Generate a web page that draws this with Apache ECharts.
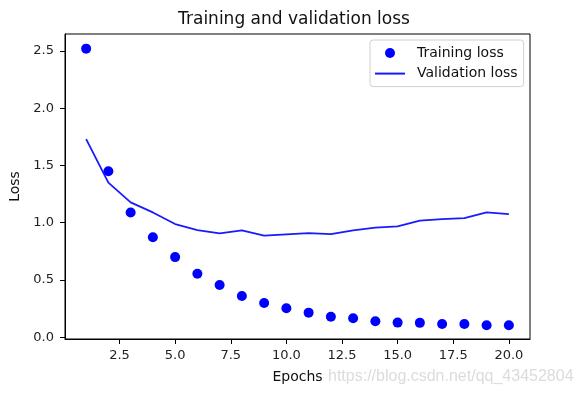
<!DOCTYPE html>
<html><head><meta charset="utf-8">
<script src="https://cdn.jsdelivr.net/npm/echarts@6/dist/echarts.min.js"></script>
<style>html,body{margin:0;padding:0;background:#fff}#c{width:579px;height:394px}</style>
</head><body><div id="c"></div>
<script>
const epochs = [1,2,3,4,5,6,7,8,9,10,11,12,13,14,15,16,17,18,19,20];
const trainingLoss = [2.52,1.45,1.09,0.873,0.70,0.555,0.456,0.36,0.30,0.253,0.215,0.18,0.166,0.14,0.128,0.126,0.116,0.116,0.105,0.105];
const validationLoss = [1.73,1.35,1.178,1.09,0.989,0.936,0.907,0.934,0.887,0.899,0.91,0.901,0.934,0.957,0.968,1.018,1.032,1.041,1.09,1.076];
const xTicks = [2.5,5,7.5,10,12.5,15,17.5,20];
const yTicks = [0,0.5,1,1.5,2,2.5];

const font = 'DejaVu Sans';
const chart = echarts.init(document.getElementById('c'), null, {renderer:'canvas'});
chart.setOption({
  animation:false,
  backgroundColor:'#fff',
  grid:{left:60,right:49,top:34,bottom:55,show:true,borderColor:'#000',borderWidth:1,backgroundColor:'#fff'},
  xAxis:{type:'value',min:0.05,max:20.95,
    name:'Epochs',nameLocation:'middle',nameGap:31,
    nameTextStyle:{fontFamily:font,fontSize:14,color:'#111'},
    axisLine:{show:true,onZero:false,lineStyle:{color:'#000'}},
    axisTick:{show:true,length:5,lineStyle:{color:'#000'},customValues:xTicks},
    axisLabel:{fontFamily:font,fontSize:13,color:'#222',margin:10,customValues:xTicks,formatter:v=>v.toFixed(1)},
    splitLine:{show:false}},
  yAxis:{type:'value',min:-0.015,max:2.648,
    name:'Loss',nameLocation:'middle',nameGap:43,
    nameTextStyle:{fontFamily:font,fontSize:14,color:'#111'},
    axisLine:{show:true,onZero:false,lineStyle:{color:'#000'}},
    axisTick:{show:true,length:5,lineStyle:{color:'#000'},customValues:yTicks},
    axisLabel:{fontFamily:font,fontSize:13,color:'#222',margin:11,customValues:yTicks,formatter:v=>v.toFixed(1)},
    splitLine:{show:false}},
  legend:{orient:'vertical',left:370,top:40,padding:[6,6,6,4],itemGap:6.6,itemWidth:30,itemHeight:10,
    backgroundColor:'#fff',borderColor:'#d0d0d0',borderWidth:1,borderRadius:3,
    textStyle:{fontFamily:font,fontSize:14,lineHeight:14,color:'#111',padding:[0,0,0,7]},
    data:[{name:'Training loss',icon:'circle'},{name:'Validation loss',itemStyle:{opacity:0,borderWidth:0}}]},
  graphic:[
    {type:'text',x:294,y:20,style:{text:'Training and validation loss',font:'17px "DejaVu Sans"',fill:'#111',textAlign:'center',textVerticalAlign:'middle',verticalAlign:'middle'}},
    {type:'text',x:328,y:369,style:{text:'https://blog.csdn.net/qq_43452804',font:'16px "Liberation Sans"',fill:'#dcdcdc'},z:100}
  ],
  series:[
    {name:'Training loss',type:'scatter',symbol:'circle',symbolSize:10,itemStyle:{color:'#0000ff',opacity:1},
      data:epochs.map((e,i)=>[e,trainingLoss[i]])},
    {name:'Validation loss',type:'line',symbol:'none',lineStyle:{color:'#1a1aff',width:1.8},itemStyle:{color:'#1a1aff'},
      data:epochs.map((e,i)=>[e,validationLoss[i]])}
  ]
});
</script></body></html>
